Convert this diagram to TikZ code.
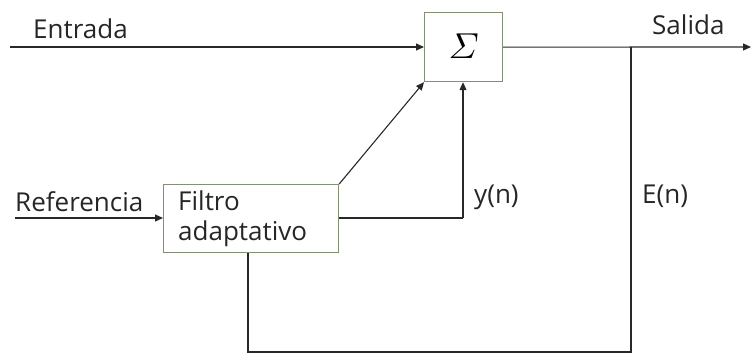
\documentclass[tikz,border=0pt]{standalone}
\usepackage{amsmath}
\usepackage{fontspec}
\setmainfont{Open Sans}
\usetikzlibrary{arrows.meta}
\definecolor{boxc}{RGB}{130,145,115}
\definecolor{linec}{RGB}{40,40,40}
\begin{document}
\begin{tikzpicture}[x=1pt,y=-1pt,
  blk/.style={draw=boxc,line width=1.2pt,fill=white},
  conn/.style={draw=linec,line width=1.1pt},
  arr/.style={conn,-{Triangle[length=8pt,width=7pt]}},
  lbl/.style={font=\fontsize{26}{30}\selectfont,text=black!85,inner sep=0pt}]
\useasboundingbox (0,0) rectangle (751,356);
\node[blk,minimum width=78pt,minimum height=69pt,anchor=north west] (sum) at (424,12) {};
\node[inner sep=0pt] (sig) at ([yshift=1pt]sum.center) {\scalebox{3.6}{$\varSigma$}};
\node[blk,minimum width=175pt,minimum height=68pt,anchor=north west] (filt) at (163,184) {};
\node[lbl,anchor=base west,align=left] (ft) at (178,210) {Filtro};
\node[lbl,anchor=base west,align=left] (ft2) at (178,240) {adaptativo};
\coordinate (in) at (10,47);
\coordinate (ref) at (15,218);
\coordinate (out) at (751,47);
\coordinate (br) at (631,47);
\coordinate (bl) at (631,352);
\coordinate (bb) at (248,352);
\coordinate (yc) at (463,218);
\draw[arr] (in) -- (in -| sum.west);
\draw[arr] (sum.east) -- (out);
\draw[arr] (ref) -- (ref -| filt.west);
\draw[arr] (filt.north east) -- (sum.south west);
\draw[conn] (filt.east |- yc) -- (yc);
\draw[arr] (yc) -- (yc |- sum.south);
\draw[conn] (br) -- (bl) -- (bb) -- (bb |- filt.south);
\node[lbl,anchor=base west] (e) at (33,38) {Entrada};
\node[lbl,anchor=base west] (s) at (652,34) {Salida};
\node[lbl,anchor=base west] (r) at (15,211) {Referencia};
\node[lbl,anchor=base west] (y) at (474,203) {y(n)};
\node[lbl,anchor=base west] (en) at (642,203) {E(n)};
\end{tikzpicture}
\end{document}
